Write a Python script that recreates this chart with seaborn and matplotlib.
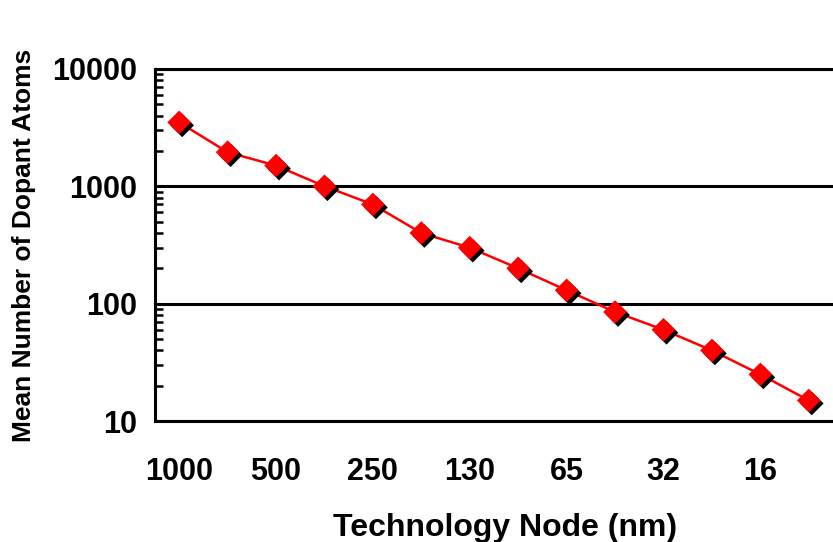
import numpy as np
import pandas as pd
import matplotlib
matplotlib.use('Agg')
import matplotlib.pyplot as plt
import matplotlib.transforms as mtransforms
from matplotlib.ticker import LogLocator, NullFormatter
import seaborn as sns

# technology nodes (nm) and mean number of dopant atoms
nodes = [1000, 700, 500, 350, 250, 180, 130, 90, 65, 45, 32, 22, 16, 11]
atoms = [3500, 1950, 1500, 1000, 700, 400, 300, 200, 130, 85, 60, 40, 25, 15]
ytick_vals = [10, 100, 1000, 10000]
ytick_labels = ['10', '100', '1000', '10000']

df = pd.DataFrame({'node': nodes, 'atoms': atoms})
df['pos'] = np.arange(len(df)) + 0.5

sns.set_theme(style='white')
plt.rcParams['font.family'] = ['Liberation Sans', 'DejaVu Sans']
plt.rcParams['font.weight'] = 'bold'
for key in ['text.color', 'axes.labelcolor', 'xtick.color', 'ytick.color']:
    plt.rcParams[key] = 'black'

fig = plt.figure(figsize=(8.33, 5.42), dpi=100)
ax = fig.add_axes([0.186, 0.223, 0.814, 0.650])

sns.lineplot(data=df, x='pos', y='atoms', ax=ax, color='red', lw=1.8, zorder=3)

# drop shadow for markers
shadow = ax.transData + mtransforms.ScaledTranslation(3 / 100, -3 / 100, fig.dpi_scale_trans)
sns.scatterplot(data=df, x='pos', y='atoms', ax=ax, marker='D', s=145, color='black',
                edgecolor='none', transform=shadow, zorder=4)
sns.scatterplot(data=df, x='pos', y='atoms', ax=ax, marker='D', s=145, color='red',
                edgecolor='none', zorder=5)

ax.set_yscale('log')
ax.set_ylim(10, 10000)
ax.set_xlim(0, len(df))

ax.set_yticks(ytick_vals, labels=ytick_labels)
ax.yaxis.set_minor_locator(LogLocator(base=10, subs=np.arange(2, 10)))
ax.yaxis.set_minor_formatter(NullFormatter())
ax.yaxis.grid(True, which='major', color='black', lw=2.2)
ax.xaxis.grid(False)

ax.set_xticks(df['pos'][::2], labels=[str(n) for n in df['node'][::2]])
ax.set_xticks(np.arange(1, len(df)), minor=True)

ax.tick_params(axis='x', which='major', length=0, pad=26, labelsize=22)
ax.tick_params(axis='x', which='minor', direction='in', length=7, width=1.8, color='black')
ax.tick_params(axis='y', which='major', direction='in', length=0, pad=13, labelsize=22)
ax.tick_params(axis='y', which='minor', direction='in', length=6, width=1.8, color='black', left=True)
for lab in ax.get_xticklabels() + ax.get_yticklabels():
    lab.set_fontweight('bold')

for side in ['left', 'bottom', 'top']:
    ax.spines[side].set_color('black')
    ax.spines[side].set_linewidth(2.2)
ax.spines['right'].set_visible(False)

ax.set_xlabel('Technology Node (nm)', fontsize=23, fontweight='bold')
ax.set_ylabel('Mean Number of Dopant Atoms', fontsize=19, fontweight='bold')
ax.xaxis.set_label_coords(0.517, -0.26)
ax.yaxis.set_label_coords(-0.176, 0.5)

fig.savefig('out.png', dpi=100)
